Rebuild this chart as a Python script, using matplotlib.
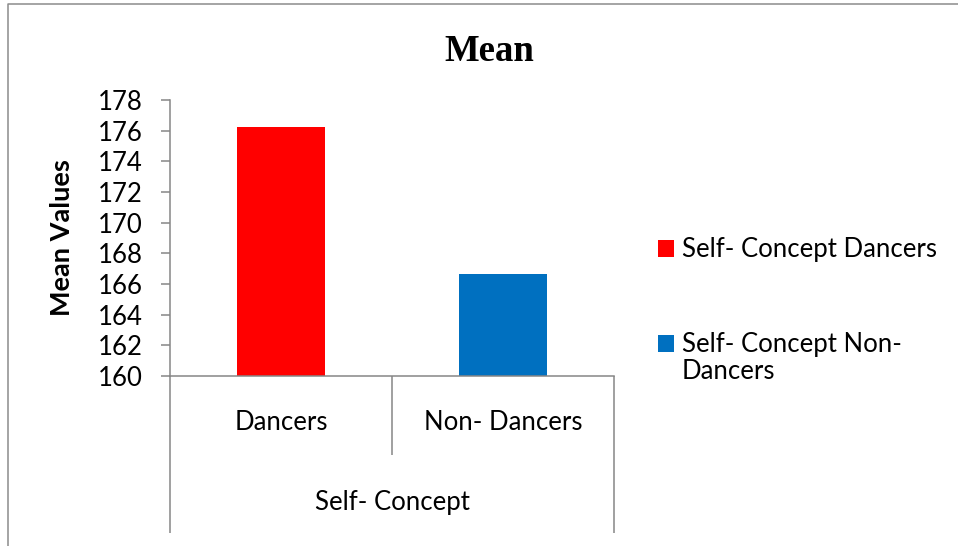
import numpy as np
import matplotlib
matplotlib.use('Agg')
import matplotlib.pyplot as plt
from matplotlib.lines import Line2D
from matplotlib.patches import Rectangle
from matplotlib.legend_handler import HandlerPatch
import matplotlib.transforms as mtransforms

plt.rcParams['font.family'] = ['Lato', 'DejaVu Sans']

categories = ['Dancers', 'Non- Dancers']
group_label = 'Self- Concept'
values = [176.22, 166.65]
series_names = ['Self- Concept Dancers', 'Self- Concept Non-\nDancers']
colors = ['#ff0000', '#0070c0']
yticks = np.arange(160, 179, 2)

axis_grey = '#868686'
fs = 18.5

fig = plt.figure(figsize=(9.58, 5.46), dpi=100)
ax = fig.add_axes([170/958, 170/546, 444/958, 276/546])

x = np.arange(len(categories))
bars = ax.bar(x, values, width=0.4, color=colors)
ax.set_xlim(-0.5, 1.5)
ax.set_ylim(160, 178)
ax.set_yticks(yticks)
ax.tick_params(axis='y', labelsize=fs, length=6.5, width=1.1, color=axis_grey, pad=13)

for s in ['top', 'right']:
    ax.spines[s].set_visible(False)
for s in ['left', 'bottom']:
    ax.spines[s].set_color(axis_grey)
    ax.spines[s].set_linewidth(1.1)

# multi-level category axis
ax.set_xticks([-0.5, 1.5])
ax.set_xticklabels([])
ax.tick_params(axis='x', which='major', length=113, width=1.1, color=axis_grey)
ax.set_xticks([0.5], minor=True)
ax.tick_params(axis='x', which='minor', length=57, width=1.1, color=axis_grey)

trans = mtransforms.blended_transform_factory(ax.transData, ax.transAxes)
for xi, name in zip(x, categories):
    ax.text(xi, -0.17, name, transform=trans, ha='center', va='center', fontsize=fs)
ax.text(x.mean(), -0.46, group_label, transform=trans, ha='center', va='center', fontsize=fs)

ax.set_ylabel('Mean Values', fontsize=19.5, fontweight='bold')
ax.yaxis.set_label_coords(-0.216, 0.502)

fig.text(0.511, 0.905, 'Mean', ha='center', va='center', fontsize=26.5,
         fontweight='bold', family=['Liberation Serif', 'DejaVu Serif'])


# legend square sits next to the first line of a wrapped label
def first_line_square(legend, orig_handle, xdescent, ydescent, width, height, fontsize):
    shift = 0.5 * 1.2 * fontsize
    return Rectangle((-xdescent, -ydescent + shift), width, height)


handler_map = {bars.patches[1]: HandlerPatch(patch_func=first_line_square)}
leg = fig.legend(bars.patches, series_names, loc='upper left',
                 bbox_to_anchor=(648/958, 1 - 227/546), handler_map=handler_map,
                 frameon=False, fontsize=fs, handlelength=0.62, handleheight=0.62,
                 handletextpad=0.3, labelspacing=2.7, borderaxespad=0)
for t in leg.get_texts():
    t.set_linespacing(1.1)

# chart area border (partly cropped in the reference)
fig.add_artist(Line2D([8/958, 8/958, 1], [0, 1 - 4/546, 1 - 4/546],
                      transform=fig.transFigure, color='#8c8c8c', lw=1.1))

fig.savefig('out.png', dpi=100)
